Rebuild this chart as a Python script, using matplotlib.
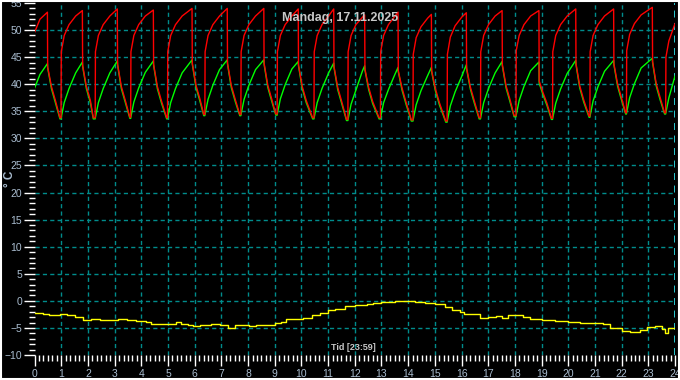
import matplotlib
matplotlib.use("Agg")
import matplotlib.pyplot as plt
from matplotlib.patches import Rectangle

plt.rcParams['font.family'] = ['Liberation Sans', 'DejaVu Sans']
plt.rcParams['lines.scale_dashes'] = False

title = "Mandag, 17.11.2025"
xlabel = "Tid [23:59]"
ylabel = "° C"

# time (hours) shared by the two boiler curves
t_hours = [
    0.00, 0.20, 0.48, 0.49, 0.63, 0.78, 0.95,
    0.99, 1.00, 1.11, 1.29, 1.54, 1.79, 1.80, 1.94, 2.09, 2.20,
    2.27, 2.28, 2.39, 2.57, 2.82, 3.10, 3.11, 3.25, 3.40, 3.57,
    3.60, 3.61, 3.72, 3.90, 4.15, 4.45, 4.46, 4.60, 4.75, 4.95,
    4.98, 4.99, 5.10, 5.28, 5.53, 5.90, 5.91, 6.05, 6.20, 6.34,
    6.38, 6.39, 6.50, 6.68, 6.93, 7.22, 7.23, 7.37, 7.52, 7.69,
    7.73, 7.74, 7.85, 8.03, 8.28, 8.59, 8.60, 8.74, 8.89, 9.04,
    9.09, 9.10, 9.21, 9.39, 9.64, 9.88, 9.89, 10.03, 10.18, 10.42,
    10.47, 10.48, 10.59, 10.77, 11.02, 11.21, 11.22, 11.36, 11.51, 11.69,
    11.74, 11.75, 11.86, 12.04, 12.29, 12.37, 12.38, 12.52, 12.67, 12.91,
    12.96, 12.97, 13.08, 13.26, 13.51, 13.62, 13.63, 13.77, 13.92, 14.12,
    14.18, 14.19, 14.30, 14.48, 14.73, 14.87, 14.88, 15.02, 15.17, 15.41,
    15.46, 15.47, 15.58, 15.76, 16.01, 16.18, 16.19, 16.33, 16.48, 16.66,
    16.71, 16.72, 16.83, 17.01, 17.26, 17.52, 17.53, 17.67, 17.82, 17.97,
    18.04, 18.05, 18.16, 18.34, 18.59, 18.90, 18.91, 19.05, 19.20, 19.37,
    19.41, 19.42, 19.53, 19.71, 19.96, 20.28, 20.29, 20.43, 20.58, 20.78,
    20.81, 20.82, 20.93, 21.11, 21.36, 21.70, 21.71, 21.85, 22.00, 22.15,
    22.18, 22.19, 22.30, 22.48, 22.73, 23.15, 23.16, 23.30, 23.45, 23.61,
    23.65, 23.66, 23.77, 24.00,
]

red_temp = [
    49.6, 52.0, 53.3, 43.2, 39.6, 37.0, 33.8,
    33.8, 46.0, 49.0, 51.0, 52.6, 53.6, 43.5, 39.6, 37.0, 33.8,
    33.8, 46.0, 49.0, 51.0, 52.6, 53.9, 43.7, 39.6, 37.0, 33.9,
    33.9, 46.0, 49.0, 51.0, 52.6, 53.7, 43.7, 39.6, 37.0, 33.8,
    33.8, 46.0, 49.0, 51.0, 52.6, 54.0, 43.9, 39.8, 37.2, 34.4,
    34.4, 46.0, 49.0, 51.0, 52.6, 54.0, 43.9, 39.8, 37.2, 34.4,
    34.4, 46.0, 49.0, 51.0, 52.6, 54.0, 43.9, 39.8, 37.2, 34.5,
    34.5, 46.0, 49.0, 51.0, 52.6, 53.9, 43.6, 39.6, 37.0, 33.8,
    33.8, 46.0, 49.0, 51.0, 52.6, 53.9, 43.3, 39.4, 36.8, 33.5,
    33.5, 46.0, 49.0, 51.0, 52.4, 52.8, 42.8, 39.4, 36.8, 33.8,
    33.8, 46.0, 49.0, 51.0, 52.6, 53.3, 42.5, 39.3, 36.7, 33.4,
    33.4, 45.5, 48.6, 50.6, 52.2, 52.9, 42.5, 39.2, 36.6, 33.2,
    33.2, 45.5, 48.7, 50.8, 52.4, 53.2, 43.0, 39.5, 36.9, 33.8,
    33.8, 46.0, 49.0, 51.0, 52.6, 53.6, 43.6, 39.7, 37.1, 34.2,
    34.2, 46.2, 49.0, 51.0, 52.6, 53.6, 40.6, 38.5, 36.5, 33.7,
    33.7, 46.0, 49.0, 51.0, 52.6, 53.9, 43.8, 39.7, 37.1, 34.1,
    34.1, 46.0, 49.0, 51.0, 52.6, 53.9, 43.8, 40.0, 37.4, 34.7,
    34.7, 46.2, 49.2, 51.2, 52.8, 54.2, 44.2, 40.0, 37.4, 34.7,
    34.7, 45.0, 48.0, 51.2,
]

green_temp = [
    39.3, 41.8, 43.8, 43.0, 39.2, 36.6, 33.6,
    33.6, 33.9, 36.6, 39.2, 42.1, 44.1, 43.3, 39.2, 36.6, 33.6,
    33.6, 33.9, 36.6, 39.2, 42.1, 44.3, 43.5, 39.2, 36.6, 33.7,
    33.7, 34.0, 36.7, 39.3, 42.2, 44.3, 43.5, 39.2, 36.6, 33.6,
    33.6, 33.9, 36.6, 39.2, 42.1, 44.5, 43.7, 39.4, 36.8, 34.2,
    34.2, 34.5, 37.2, 39.8, 42.7, 44.5, 43.7, 39.4, 36.8, 34.2,
    34.2, 34.5, 37.2, 39.8, 42.7, 44.5, 43.7, 39.4, 36.8, 34.3,
    34.3, 34.6, 37.3, 39.9, 42.8, 44.2, 43.4, 39.2, 36.6, 33.6,
    33.6, 33.9, 36.6, 39.2, 42.1, 43.9, 43.1, 39.0, 36.4, 33.3,
    33.3, 33.6, 36.3, 38.9, 42.5, 43.4, 42.6, 39.0, 36.4, 33.6,
    33.6, 33.9, 36.6, 39.0, 41.9, 43.1, 42.3, 38.9, 36.3, 33.2,
    33.2, 33.5, 36.2, 38.8, 41.6, 43.1, 42.3, 38.8, 36.2, 33.0,
    33.0, 33.3, 36.0, 38.6, 41.5, 43.6, 42.8, 39.1, 36.5, 33.6,
    33.6, 33.9, 36.6, 39.2, 42.1, 44.2, 43.4, 39.3, 36.7, 34.0,
    34.0, 34.3, 37.0, 39.6, 42.5, 44.1, 40.2, 38.1, 36.1, 33.5,
    33.5, 33.8, 36.5, 39.1, 42.0, 44.4, 43.6, 39.3, 36.7, 33.9,
    33.9, 34.2, 36.9, 39.5, 42.4, 44.4, 43.6, 39.6, 37.0, 34.5,
    34.5, 34.8, 37.5, 40.1, 43.0, 44.8, 44.0, 39.6, 37.0, 34.5,
    34.5, 34.8, 37.5, 41.5,
]

# outdoor temperature
t_out = [
    0.00, 0.30, 0.55, 0.95, 1.20, 1.50, 1.82, 2.13, 2.45, 2.82, 3.13, 3.45,
    3.80, 4.17, 4.36, 4.67, 5.05, 5.30, 5.50, 5.74, 5.93, 6.18, 6.60, 6.93,
    7.24, 7.50, 7.80, 8.05, 8.30, 8.70, 9.00, 9.25, 9.44, 9.75, 10.06, 10.40,
    10.70, 11.00, 11.25, 11.63, 12.00, 12.44, 12.70, 13.00, 13.50, 14.00,
    14.25, 14.63, 15.00, 15.38, 15.63, 15.94, 16.10, 16.68, 17.00, 17.30,
    17.50, 17.75, 18.00, 18.30, 18.55, 19.00, 19.20, 19.50, 20.00, 20.44,
    21.00, 21.30, 21.56, 22.00, 22.30, 22.70, 22.94, 23.25, 23.50, 23.63,
    23.75, 24.00,
]
outdoor = [
    -2.2, -2.5, -2.7, -2.5, -2.7, -2.9, -3.6, -3.4, -3.6, -3.6, -3.4, -3.5,
    -3.7, -3.9, -4.3, -4.2, -4.2, -3.9, -4.2, -4.4, -4.7, -4.5, -4.3, -4.4,
    -5.0, -4.4, -4.5, -4.6, -4.5, -4.4, -4.1, -3.9, -3.3, -3.3, -3.2, -2.7,
    -2.2, -1.6, -1.5, -1.0, -0.7, -0.6, -0.4, -0.2, -0.1, -0.1,
    -0.2, -0.4, -0.6, -1.1, -1.6, -2.1, -2.4, -3.1, -3.0, -2.8,
    -3.1, -2.7, -2.7, -2.9, -3.4, -3.5, -3.6, -3.8, -3.9, -4.0,
    -4.1, -4.3, -5.1, -5.6, -5.7, -5.3, -4.9, -4.7, -5.2, -5.9,
    -5.0, -4.9,
]

x_ticks = list(range(0, 25))
y_ticks = list(range(-10, 56, 5))

label_col = '#aabdd0'
grid_col = '#008c8c'

fig = plt.figure(figsize=(6.8, 3.8), dpi=100, facecolor='black')
ax = fig.add_axes([34.6 / 680, 1 - 355 / 380, 640.4 / 680, 352 / 380])
ax.set_facecolor('black')

for x in x_ticks[1:-1]:
    ax.axvline(x, color=grid_col, lw=1.0, ls=(0, (3.0, 2.3)), zorder=1)
ax.axvline(x_ticks[-1], color='#30d8e0', lw=1.3, ls=(0, (5, 4)), zorder=1)
for y in y_ticks[1:-1]:
    ax.axhline(y, color=grid_col, lw=1.0, ls=(0, (3.0, 2.3)), zorder=1)

ax.plot(t_out, outdoor, color='#ffff00', lw=1.0, drawstyle='steps-post', zorder=3)
ax.plot(t_hours, green_temp, color='#00ff00', lw=1.0, zorder=3)
ax.plot(t_hours, red_temp, color='#ff0000', lw=1.0, zorder=4)

ax.set_xlim(0, 24)
ax.set_ylim(-10, 55)
ax.set_xticks(x_ticks)
ax.set_yticks(y_ticks)
ax.set_xticks([i / 6 for i in range(0, 145)], minor=True)
ax.set_yticks(list(range(-10, 56)), minor=True)
for s in ax.spines.values():
    s.set_visible(False)
ax.tick_params(axis='both', which='major', colors='white', length=8, width=1,
               labelcolor=label_col, labelsize=7.5, pad=1)
ax.tick_params(axis='both', which='minor', colors='white', length=4, width=1)
ax.tick_params(axis='x', which='major', pad=2)

ax.text(0.477, 0.958, title, transform=ax.transAxes, ha='center', va='center',
        color='#c8c8c8', fontsize=9, fontweight='bold', zorder=6)
ax.text(0.497, 0.02, xlabel, transform=ax.transAxes, ha='center', va='center',
        color='#c8c8c8', fontsize=6.5, fontweight='bold', zorder=6)
fig.text(10 / 680, 1 - 179 / 380, ylabel, rotation=90, ha='center', va='center',
         color=label_col, fontsize=8.5, fontweight='bold')

fig.patches.append(Rectangle((0.001, 0.002), 0.997, 0.996, transform=fig.transFigure,
                             fill=False, edgecolor='white', lw=1.5))

fig.savefig('out.png', dpi=100, facecolor='black')
